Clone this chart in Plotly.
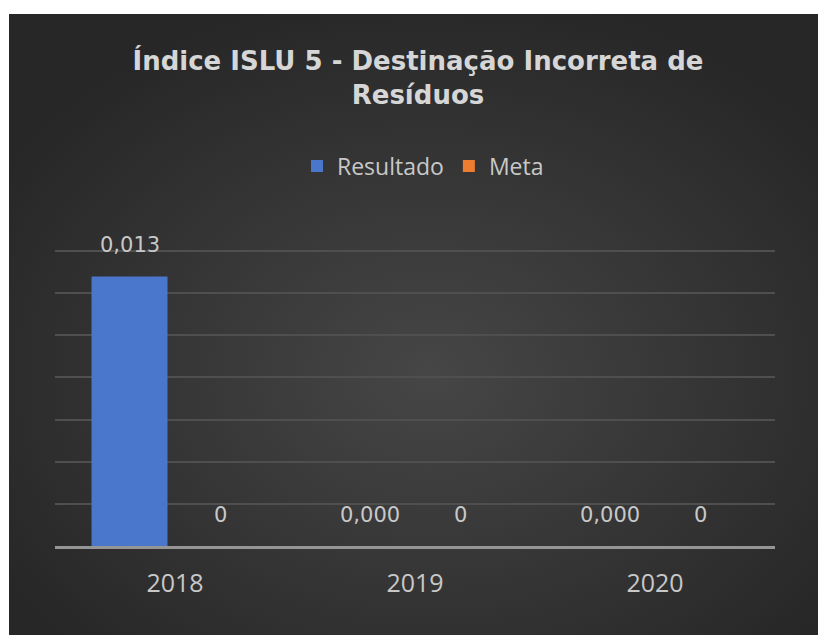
import plotly.graph_objects as go

years = ["2018", "2019", "2020"]
resultado = [0.0128, 0.0, 0.0]
resultado_labels = ["0,013", "0,000", "0,000"]
meta = [0, 0, 0]
meta_labels = ["0", "0", "0"]

title_text = "Índice ISLU 5 - Destinação Incorreta de<br>Resíduos"

W, H = 818, 635
L, R, T, B = 55, 43, 249, 89
pw, ph = W - L - R, H - T - B
YMAX = 0.0141

def px_to_paper_x(px):
    return (px - L) / pw

def py_to_paper_y(py):
    return (H - B - py) / ph

svg = (
    "data:image/svg+xml;utf8,"
    "<svg xmlns='http://www.w3.org/2000/svg' width='809' height='621' viewBox='0 0 809 621' preserveAspectRatio='none'>"
    "<defs><radialGradient id='g' cx='52%25' cy='58%25' r='62%25'>"
    "<stop offset='0%25' stop-color='%23464646'/>"
    "<stop offset='100%25' stop-color='%23272727'/>"
    "</radialGradient></defs>"
    "<rect width='809' height='621' fill='url(%23g)'/></svg>"
)

BARGAP = 0.242
GROUPGAP = 0.165
slot = (pw / len(years)) * (1 - BARGAP) / 2
half = slot / 2

fig = go.Figure()
fig.add_trace(go.Bar(
    name="Resultado", x=years, y=resultado,
    marker=dict(color="#4a77cb", line=dict(width=0)),
))
fig.add_trace(go.Bar(
    name="Meta", x=years, y=meta,
    marker=dict(color="#ED7D31", line=dict(width=0)),
))

label_font = dict(family="DejaVu Sans", size=21, color="#c8c8c8")
annotations = []
for i, (v, t) in enumerate(zip(resultado, resultado_labels)):
    annotations.append(dict(x=i, y=v, xref="x", yref="y", text=t, showarrow=False,
                            xshift=-half, yshift=31, yanchor="middle", font=label_font))
for i, (v, t) in enumerate(zip(meta, meta_labels)):
    annotations.append(dict(x=i, y=v, xref="x", yref="y", text=t, showarrow=False,
                            xshift=half, yshift=31, yanchor="middle", font=label_font))

fig.update_layout(
    width=W, height=H,
    margin=dict(l=L, r=R, t=T, b=B),
    paper_bgcolor="white",
    plot_bgcolor="rgba(0,0,0,0)",
    barmode="group", bargap=BARGAP, bargroupgap=GROUPGAP,
    separators=",.",
    title=dict(
        text="<b>" + title_text + "</b>",
        x=0.511, xanchor="center", xref="container",
        y=(H - 70) / H, yanchor="top", yref="container",
        font=dict(family="DejaVu Sans", size=26, color="#d6d6d6"),
    ),
    legend=dict(
        orientation="h", x=px_to_paper_x(423), xanchor="center",
        y=py_to_paper_y(166), yanchor="middle",
        font=dict(family="Open Sans", size=23, color="#c8c8c8"),
        bgcolor="rgba(0,0,0,0)", itemwidth=30, traceorder="normal",
    ),
    xaxis=dict(
        type="category", range=[-0.5, len(years) - 0.5],
        showline=True, linecolor="#959595", linewidth=2.5,
        showgrid=False, ticks="",
        tickfont=dict(family="Open Sans", size=25, color="#c8c8c8"),
        ticklabelstandoff=13,
    ),
    yaxis=dict(
        range=[0, YMAX], dtick=0.002, showticklabels=False,
        showgrid=True, gridcolor="#4f4f4f", gridwidth=1.5,
        zeroline=False, showline=False, ticks="",
    ),
    annotations=annotations,
    images=[dict(
        source=svg, xref="paper", yref="paper",
        x=px_to_paper_x(9), y=py_to_paper_y(14),
        sizex=px_to_paper_x(818) - px_to_paper_x(9),
        sizey=py_to_paper_y(14) - py_to_paper_y(635),
        xanchor="left", yanchor="top", sizing="stretch", layer="below",
    )],
    showlegend=True,
)

fig.write_html("out.html")
